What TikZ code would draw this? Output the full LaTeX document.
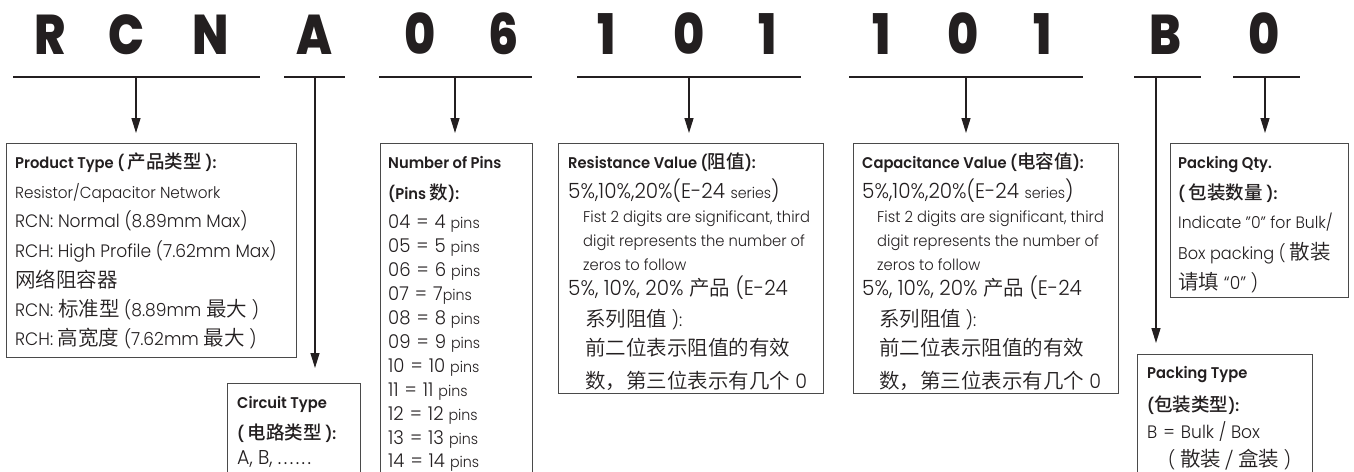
\documentclass[tikz,border=0pt]{standalone}
\usepackage{fontspec}
\setmainfont{Poppins}[UprightFont={* Light}, BoldFont={* SemiBold}, FakeStretch=0.95]
\IfFontExistsTF{Noto Sans CJK SC DemiLight}
  {\newfontfamily\cjk{Noto Sans CJK SC DemiLight}}
  {\IfFontExistsTF{Noto Sans CJK SC Light}
     {\newfontfamily\cjk{Noto Sans CJK SC Light}}
     {\newfontfamily\cjk{Noto Sans CJK SC}}}
\IfFontExistsTF{Noto Sans CJK SC Medium}
  {\newfontfamily\cjkb{Noto Sans CJK SC Medium}}
  {\newfontfamily\cjkb{Noto Sans CJK SC}}
\IfFontExistsTF{Poppins ExtraBold}
  {\newfontfamily\bigfont{Poppins ExtraBold}[FakeStretch=0.85]}
  {\newfontfamily\bigfont{Poppins Bold}[FakeStretch=0.85]}
\usetikzlibrary{arrows.meta}
\definecolor{ink}{HTML}{231F20}
\definecolor{frame}{HTML}{4A4A4A}
\newcommand\mytl[5]{\node[txt,font=#4,anchor=base west] (#1) at (#2,#3) {#5};}
\newcommand\fA{\fontsize{18}{20}\selectfont}
\newcommand\fH{\bfseries\fontsize{15.5}{18}\selectfont}
\newcommand\fS{\fontsize{15.5}{18}\selectfont}
\newcommand\fL{\fontsize{19}{20}\selectfont}
\newcommand\fP{\fontsize{15}{17}\selectfont}
\newcommand\fN{\fontsize{21}{20}\selectfont}
\newcommand\zh[1]{{\cjk\mdseries\fontsize{20.5}{20}\selectfont #1}}
\newcommand\zhh[1]{{\cjkb\mdseries\fontsize{18.5}{20}\selectfont #1}}
\newcommand\eq{\hspace{6pt}=\hspace{6pt}}
\begin{document}
\begin{tikzpicture}[x=1pt,y=-1pt,
  txt/.style={inner sep=0pt,text=ink},
  bx/.style={draw=frame,line width=1.2pt,inner sep=0pt,anchor=north west},
  big/.style={inner sep=0pt,anchor=base,text=ink,font=\bigfont\fontsize{56}{60}\selectfont},
  uline/.style={line width=2pt,draw=ink},
  arr/.style={line width=1.3pt,draw=ink,-{Triangle[length=15pt,width=9pt]},shorten >=10pt}]
\fill[white] (0,0) rectangle (1354,471);
\useasboundingbox (0,0) rectangle (1354,471);
\clip (0,0) rectangle (1354,471);

% big code letters
\node[big] (L1) at (50,54) {R};
\node[big] (L2) at (127,54) {C};
\node[big] (L3) at (211,54) {N};
\node[big] (L4) at (314,54) {A};
\node[big] (L5) at (420,54) {0};
\node[big] (L6) at (504,54) {6};
\node[big] (L7) at (607,54) {1};
\node[big] (L8) at (689,54) {0};
\node[big] (L9) at (768,54) {1};
\node[big] (L10) at (882,54) {1};
\node[big] (L11) at (963,54) {0};
\node[big] (L12) at (1043,54) {1};
\node[big] (L13) at (1165,54) {B};
\node[big] (L14) at (1264,54) {0};

% underlines
\coordinate (u1a) at (13,77);   \coordinate (u1b) at (260,77);  \coordinate (a1) at (136,77);
\coordinate (u2a) at (284,77);  \coordinate (u2b) at (345,77);  \coordinate (a2) at (315,77);
\coordinate (u3a) at (379,77);  \coordinate (u3b) at (532,77);  \coordinate (a3) at (455,77);
\coordinate (u4a) at (577,77);  \coordinate (u4b) at (801,77);  \coordinate (a4) at (689,77);
\coordinate (u5a) at (849,77);  \coordinate (u5b) at (1083,77); \coordinate (a5) at (966,77);
\coordinate (u6a) at (1134,77); \coordinate (u6b) at (1201,77); \coordinate (a6) at (1156,77);
\coordinate (u7a) at (1233,77); \coordinate (u7b) at (1300,77); \coordinate (a7) at (1265,77);
\foreach \i in {1,...,7} {\draw[uline] (u\i a) -- (u\i b);}

% boxes
\node[bx,minimum width=290pt,minimum height=214pt] (prod) at (6,143) {};
\node[bx,minimum width=133pt,minimum height=110pt] (circ) at (227,383) {};
\node[bx,minimum width=152pt,minimum height=350pt] (pins) at (380,143) {};
\node[bx,minimum width=265pt,minimum height=250pt] (res) at (558,143) {};
\node[bx,minimum width=265pt,minimum height=250pt] (cap) at (853,143) {};
\node[bx,minimum width=178pt,minimum height=154pt] (qty) at (1170,143) {};
\node[bx,minimum width=175pt,minimum height=140pt] (ptype) at (1137,354) {};

% connectors
\draw[arr] (a1) -- (a1 |- prod.north);
\draw[arr,shorten >=15pt] (a2) -- (a2 |- circ.north);
\draw[arr] (a3) -- (a3 |- pins.north);
\draw[arr] (a4) -- (a4 |- res.north);
\draw[arr] (a5) -- (a5 |- cap.north);
\draw[arr,shorten >=11pt] (a6) -- (a6 |- ptype.north);
\draw[arr] (a7) -- (a7 |- qty.north);

% Product type
\mytl{p1}{15}{168}{\fH}{Product Type ( \zhh{产品类型} ):}
\mytl{p2}{15}{198}{\fontsize{16}{20}\selectfont}{Resistor/Capacitor Network}
\mytl{p3}{15}{227}{\fA}{RCN: Normal (8.89mm Max)}
\mytl{p4}{15}{257}{\fA}{RCH: High Profile (7.62mm Max)}
\mytl{p5}{15}{287}{\fA}{\zh{网络阻容器}}
\mytl{p6}{15}{316}{\fA}{RCN: \zh{标准型} (8.89mm \zh{最大} )}
\mytl{p7}{15}{345}{\fA}{RCH: \zh{高宽度} (7.62mm \zh{最大} )}

% Circuit type
\mytl{c1}{237}{408}{\fH}{Circuit Type}
\mytl{c2}{237}{439}{\fH}{( \zhh{电路类型} ):}
\mytl{c3}{237}{464}{\fontsize{20}{20}\selectfont}{A, B, .\kern2.5pt.\kern2.5pt.\kern2.5pt.\kern2.5pt.\kern2.5pt.}

% Pins
\mytl{n1}{388}{168}{\fH}{Number of Pins}
\mytl{n2}{388}{199}{\fH}{(Pins \zhh{数}):}
\mytl{n3}{388}{228}{\fL}{04\eq 4 {\fP pins}}
\mytl{n4}{388}{252}{\fL}{05\eq 5 {\fP pins}}
\mytl{n5}{388}{276}{\fL}{06\eq 6 {\fP pins}}
\mytl{n6}{388}{300}{\fL}{07\eq 7{\fP pins}}
\mytl{n7}{388}{324}{\fL}{08\eq 8 {\fP pins}}
\mytl{n8}{388}{348}{\fL}{09\eq 9 {\fP pins}}
\mytl{n9}{388}{372}{\fL}{10\eq 10 {\fP pins}}
\mytl{n10}{388}{396}{\fL}{11\eq 11 {\fP pins}}
\mytl{n11}{388}{420}{\fL}{12\eq 12 {\fP pins}}
\mytl{n12}{388}{444}{\fL}{13\eq 13 {\fP pins}}
\mytl{n13}{388}{467}{\fL}{14\eq 14 {\fP pins}}

% Resistance
\mytl{r1}{568}{168}{\fH}{Resistance Value (\zhh{阻值}):}
\mytl{r2}{568}{198}{\fN}{5\%,10\%,20\%(E-24 {\fP series})}
\mytl{r3}{583}{222}{\fS}{Fist 2 digits are significant, third}
\mytl{r4}{583}{246}{\fS}{digit represents the number of}
\mytl{r5}{583}{270}{\fS}{zeros to follow}
\mytl{r6}{568}{295}{\fN}{5\%, 10\%, 20\% \zh{产品} (E-24}
\mytl{r7}{585}{326}{\fA}{\zh{系列阻值} ):}
\mytl{r8}{585}{355}{\fA}{\zh{前二位表示阻值的有效}}
\mytl{r9}{585}{388}{\fontsize{20}{20}\selectfont}{\zh{数，第三位表示有几个} 0}

% Capacitance
\mytl{k1}{862}{168}{\fH}{Capacitance Value (\zhh{电容值}):}
\mytl{k2}{862}{198}{\fN}{5\%,10\%,20\%(E-24 {\fP series})}
\mytl{k3}{877}{222}{\fS}{Fist 2 digits are significant, third}
\mytl{k4}{877}{246}{\fS}{digit represents the number of}
\mytl{k5}{877}{270}{\fS}{zeros to follow}
\mytl{k6}{862}{295}{\fN}{5\%, 10\%, 20\% \zh{产品} (E-24}
\mytl{k7}{879}{326}{\fA}{\zh{系列阻值} ):}
\mytl{k8}{879}{355}{\fA}{\zh{前二位表示阻值的有效}}
\mytl{k9}{879}{388}{\fontsize{20}{20}\selectfont}{\zh{数，第三位表示有几个} 0}

% Packing qty
\mytl{q1}{1178}{168}{\fH}{Packing Qty.}
\mytl{q2}{1178}{199}{\fH}{( \zhh{包装数量} ):}
\mytl{q3}{1178}{228}{\fontsize{16.5}{20}\selectfont}{Indicate "0" for Bulk/}
\mytl{q4}{1178}{259}{\fontsize{17}{20}\selectfont}{Box packing ( \zh{散装}}
\mytl{q5}{1178}{289}{\fA}{\zh{请填} “0” )}

% Packing type
\mytl{t1}{1147}{378}{\fH}{Packing Type}
\mytl{t2}{1147}{411}{\fH}{(\zhh{包装类型}):}
\mytl{t3}{1147}{438}{\fA}{B\eq Bulk / Box}
\mytl{t4}{1168}{466}{\fA}{( \zh{散装 / 盒装} )}
\end{tikzpicture}
\end{document}
